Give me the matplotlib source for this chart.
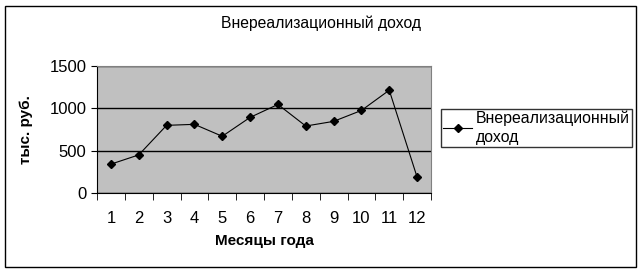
import matplotlib.pyplot as plt
from matplotlib.patches import Rectangle

plt.rcParams['font.family'] = ['Liberation Sans', 'DejaVu Sans']

months = [1, 2, 3, 4, 5, 6, 7, 8, 9, 10, 11, 12]
income = [341, 450, 799, 811, 670, 893, 1046, 791, 846, 975, 1214, 188]
series_name = 'Внереализационный\nдоход'

fig = plt.figure(figsize=(6.41, 2.73), dpi=100)
ax = fig.add_axes([97/641, 1-193/273, (431-97)/641, (193-66)/273])

# outer frame of the chart
fig.patches.append(Rectangle((5/641, 6/273), 631/641, 261/273, transform=fig.transFigure,
                             fill=False, edgecolor='black', linewidth=1))

ax.set_facecolor('#c0c0c0')
ax.plot(months, income, color='black', linewidth=0.8, marker='D', markersize=4,
        label=series_name)

ax.set_xlim(0.5, 12.5)
ax.set_ylim(0, 1500)
ax.set_yticks([0, 500, 1000, 1500])
ax.set_xticks(months)
ax.set_xticks([m + 0.5 for m in [0] + months], minor=True)
ax.tick_params(axis='x', which='major', length=0, pad=13, labelsize=12)
ax.tick_params(axis='x', which='minor', length=5, direction='out')
ax.tick_params(axis='y', length=4, direction='out', labelsize=12)
ax.grid(axis='y', color='black', linewidth=1)
ax.set_axisbelow(True)

for s in ['top', 'right']:
    ax.spines[s].set_color('#808080')
for s in ['left', 'bottom']:
    ax.spines[s].set_color('black')

fig.text(321/641, 1-23/273, 'Внереализационный доход', fontsize=11.3, ha='center', va='center')
ax.set_xlabel('Месяцы года', fontsize=11, fontweight='bold', labelpad=6)
ax.set_ylabel('тыс. руб.', fontsize=11, fontweight='bold', labelpad=12)

leg = ax.legend(loc='center left', bbox_to_anchor=(441/641, 1-150/273, 193/641, 44/273),
                bbox_transform=fig.transFigure, fontsize=11.4, frameon=True, fancybox=False,
                borderpad=0.15, handlelength=1.8, handletextpad=0.25, borderaxespad=0)
leg.get_frame().set_edgecolor('black')
leg.get_frame().set_linewidth(1)
for t in leg.get_texts():
    t.set_linespacing(1.3)

fig.savefig('out.png', dpi=100)
